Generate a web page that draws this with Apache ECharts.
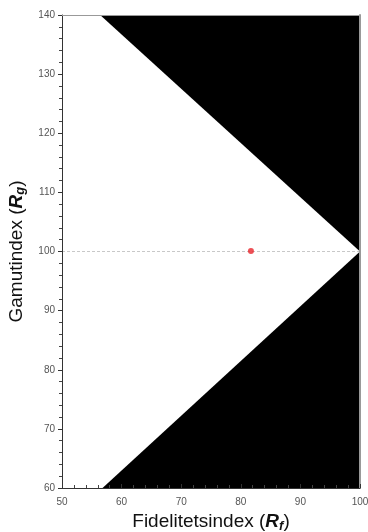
<!DOCTYPE html>
<html>
<head>
<meta charset="utf-8">
<style>
  html, body { margin: 0; padding: 0; background: #fff; }
  #chart { width: 368px; height: 532px; }
</style>
<script src="https://cdn.jsdelivr.net/npm/echarts@6/dist/echarts.min.js"></script>
</head>
<body>
<div id="chart"></div>
<script>
// Axis extents
var xRange = [50, 100];
var yRange = [60, 140];

// Excluded regions of the Rf–Rg plane (polygon vertices: [Rf, Rg])
var upperExcluded = [[56.4, 140], [100, 100], [100, 140]];
var lowerExcluded = [[56.8, 60], [100, 100], [100, 60]];

// Reference line at Rg = 100
var referenceLine = [[50, 100], [100, 100]];

// Measured source: [Rf, Rg]
var sourcePoint = [[81.7, 100.1]];

var chart = echarts.init(document.getElementById('chart'));

function polygonItem(points) {
  return function (params, api) {
    return {
      type: 'polygon',
      shape: { points: points.map(function (p) { return api.coord(p); }) },
      style: { fill: '#000' },
      silent: true
    };
  };
}

var tickLabel = { color: '#555', fontSize: 10, fontFamily: 'Liberation Sans' };

var titleRich = {
  n: { fontSize: 19, fontFamily: 'Liberation Sans', color: '#111' },
  r: { fontSize: 19, fontFamily: 'Liberation Sans', fontStyle: 'italic', fontWeight: 'bold', color: '#111' },
  s: { fontSize: 13, fontFamily: 'Liberation Sans', fontStyle: 'italic', fontWeight: 'bold', color: '#111', padding: [9, 0, 0, 0] }
};

chart.setOption({
  animation: false,
  grid: { left: 62, right: 8, top: 15, bottom: 44, containLabel: false, outerBoundsMode: 'none' },
  xAxis: [{
    type: 'value', min: xRange[0], max: xRange[1], interval: 10,
    z: 5,
    axisLine: { show: true, onZero: false, lineStyle: { color: '#333', width: 1 } },
    axisTick: { show: true, inside: true, length: 4, lineStyle: { color: '#333' } },
    minorTick: { show: true, splitNumber: 5, length: 3, lineStyle: { color: '#444' } },
    splitLine: { show: false },
    axisLabel: Object.assign({ margin: 9 }, tickLabel),
    name: '{n|Fidelitetsindex (}{r|R}{s|f}{n|)}',
    nameLocation: 'middle', nameGap: 23,
    nameTextStyle: { rich: titleRich }
  }, {
    type: 'value', min: xRange[0], max: xRange[1], position: 'top',
    z: 5,
    axisLine: { show: true, onZero: false, lineStyle: { color: '#999', width: 1 } },
    axisTick: { show: false }, axisLabel: { show: false }, splitLine: { show: false }
  }],
  yAxis: [{
    type: 'value', min: yRange[0], max: yRange[1], interval: 10,
    z: 5,
    axisLine: { show: true, onZero: false, lineStyle: { color: '#333', width: 1 } },
    axisTick: { show: true, length: 4, lineStyle: { color: '#333' } },
    minorTick: { show: true, splitNumber: 5, length: 3, lineStyle: { color: '#444' } },
    splitLine: { show: false },
    axisLabel: Object.assign({ margin: 7 }, tickLabel),
    name: '{n|Gamutindex (}{r|R}{s|g}{n|)}',
    nameLocation: 'middle', nameGap: 30,
    nameTextStyle: { rich: titleRich }
  }, {
    type: 'value', min: yRange[0], max: yRange[1], position: 'right',
    z: 5,
    axisLine: { show: true, onZero: false, lineStyle: { color: '#999', width: 2 } },
    axisTick: { show: false }, axisLabel: { show: false }, splitLine: { show: false }
  }],
  series: [
    {
      type: 'custom', renderItem: polygonItem(upperExcluded),
      data: [upperExcluded[0]], z: 1, silent: true
    },
    {
      type: 'custom', renderItem: polygonItem(lowerExcluded),
      data: [lowerExcluded[0]], z: 1, silent: true
    },
    {
      type: 'line', data: referenceLine, symbol: 'none', z: 2, silent: true,
      lineStyle: { color: '#c8c8c8', width: 1, type: [3, 2] }
    },
    {
      type: 'scatter', data: sourcePoint, symbol: 'circle', symbolSize: 6, z: 3,
      itemStyle: { color: '#e8242a' }
    }
  ]
});
</script>
</body>
</html>
